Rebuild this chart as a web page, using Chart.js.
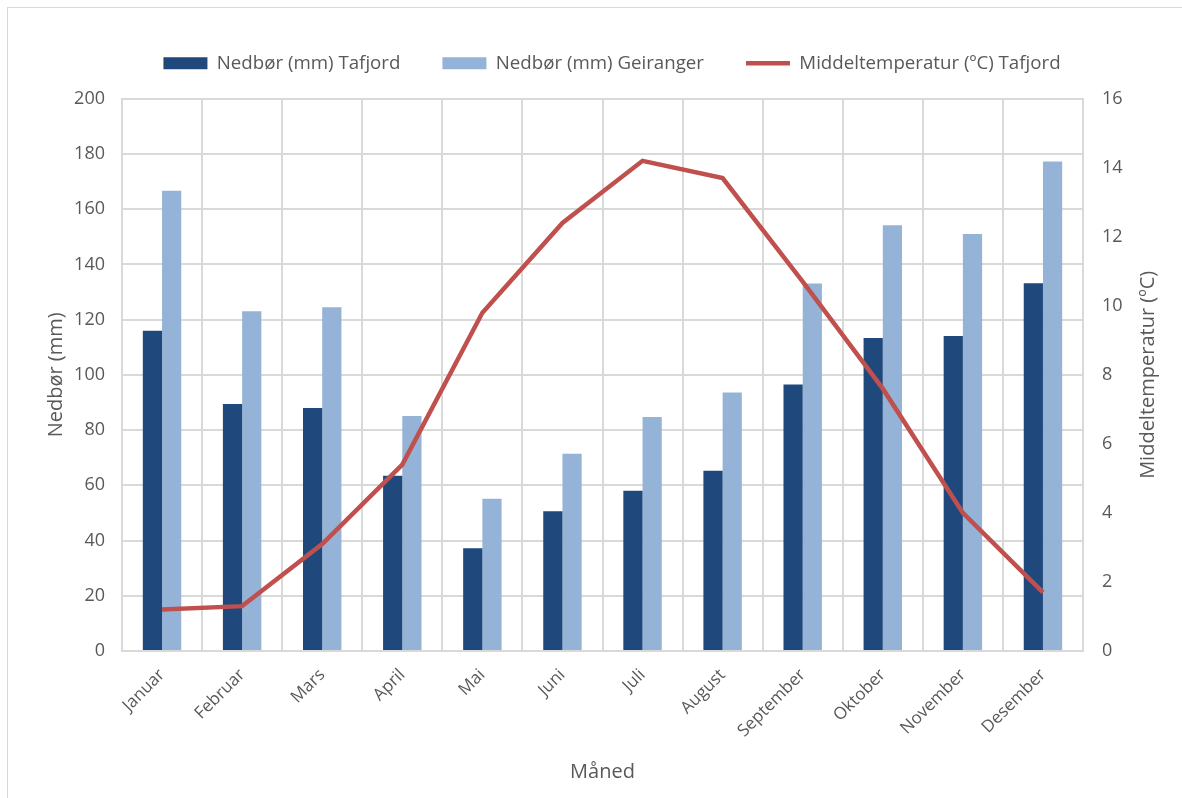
<!DOCTYPE html>
<html>
<head>
<meta charset="utf-8">
<script src="https://cdn.jsdelivr.net/npm/chart.js@4.4.1/dist/chart.umd.min.js"></script>
<style>
  html, body { margin: 0; padding: 0; background: #ffffff; }
  #wrap { width: 1182px; height: 798px; }
</style>
</head>
<body>
<div id="wrap"><canvas id="c" width="1182" height="798"></canvas></div>
<script>
// Monthly climate figures
const months = ['Januar', 'Februar', 'Mars', 'April', 'Mai', 'Juni', 'Juli',
                'August', 'September', 'Oktober', 'November', 'Desember'];
const precipTafjord = [116, 89.4, 88, 63.5, 37.2, 50.6, 58, 65.3, 96.5, 113.3, 114.1, 133.2];
const precipGeiranger = [166.7, 123, 124.5, 85.1, 55.1, 71.4, 84.7, 93.6, 133.1, 154.2, 151, 177.3];
const tempTafjord = [1.2, 1.3, 3.1, 5.4, 9.8, 12.4, 14.2, 13.7, 10.7, 7.6, 4.0, 1.7];

const textColor = '#595959';
const gridColor = '#d9d9d9';
const fontFamily = "'Open Sans', 'Liberation Sans', sans-serif";
const rightTitle = 'Middeltemperatur (ºC)';

// Thin frame, legend placement and the right-hand axis title (reads bottom to top)
const decorPlugin = {
  id: 'decor',
  afterLayout(chart) {
    const lg = chart.legend;
    if (lg) {
      lg.top -= 16;
      lg.bottom -= 16;
      lg.left += 21;
      lg.right += 21;
    }
  },
  beforeDraw(chart) {
    const ctx = chart.ctx;
    ctx.save();
    ctx.fillStyle = '#ffffff';
    ctx.fillRect(0, 0, chart.width, chart.height);
    ctx.strokeStyle = '#d9d9d9';
    ctx.lineWidth = 1;
    ctx.strokeRect(7.5, 7.5, chart.width + 20, chart.height + 20);
    ctx.restore();
  },
  afterDraw(chart) {
    const ctx = chart.ctx;
    const a = chart.chartArea;
    ctx.save();
    ctx.translate(1148, (a.top + a.bottom) / 2);
    ctx.rotate(-Math.PI / 2);
    ctx.fillStyle = textColor;
    ctx.font = '20px ' + fontFamily;
    ctx.textAlign = 'center';
    ctx.textBaseline = 'middle';
    ctx.fillText(rightTitle, 0, 0);
    ctx.restore();
  }
};

new Chart(document.getElementById('c'), {
  type: 'bar',
  data: {
    labels: months,
    datasets: [
      {
        type: 'line',
        label: 'Middeltemperatur (ºC) Tafjord',
        data: tempTafjord,
        yAxisID: 'y1',
        borderColor: '#c0504d',
        backgroundColor: '#c0504d',
        borderWidth: 4.5,
        pointRadius: 0,
        tension: 0,
        order: 0
      },
      {
        label: 'Nedbør (mm) Tafjord',
        data: precipTafjord,
        yAxisID: 'y',
        backgroundColor: '#1f497d',
        categoryPercentage: 0.48,
        barPercentage: 1.0,
        order: 1
      },
      {
        label: 'Nedbør (mm) Geiranger',
        data: precipGeiranger,
        yAxisID: 'y',
        backgroundColor: '#95b3d7',
        categoryPercentage: 0.48,
        barPercentage: 1.0,
        order: 1
      }
    ]
  },
  options: {
    responsive: false,
    animation: false,
    layout: { padding: { left: 0, right: 0, top: 28, bottom: 0 } },
    plugins: {
      tooltip: { enabled: false },
      legend: {
        position: 'top',
        labels: {
          color: textColor,
          font: { family: fontFamily, size: 18.7 },
          usePointStyle: true,
          pointStyleWidth: 44,
          boxHeight: 12,
          padding: 42,
          generateLabels(chart) {
            const order = [1, 2, 0];
            return order.map(i => {
              const ds = chart.data.datasets[i];
              const isLine = ds.type === 'line';
              return {
                text: ds.label,
                datasetIndex: i,
                fillStyle: ds.backgroundColor,
                strokeStyle: isLine ? ds.borderColor : ds.backgroundColor,
                lineWidth: isLine ? 4.5 : 0,
                pointStyle: isLine ? 'line' : 'rect',
                fontColor: textColor,
                hidden: false
              };
            });
          }
        }
      }
    },
    scales: {
      x: {
        afterFit(scale) { scale.height = 147; },
        grid: { color: gridColor, lineWidth: 2, offset: true, drawTicks: false },
        border: { color: gridColor, width: 2 },
        ticks: {
          color: textColor,
          font: { family: fontFamily, size: 17 },
          minRotation: 45,
          maxRotation: 45,
          padding: 14
        },
        title: {
          display: true,
          text: 'Måned',
          color: textColor,
          font: { family: fontFamily, size: 20 },
          padding: { top: 0, bottom: 14 }
        }
      },
      y: {
        position: 'left',
        min: 0,
        max: 200,
        afterFit(scale) { scale.width = 122; },
        grid: { color: gridColor, lineWidth: 2, drawTicks: false },
        border: { color: gridColor, width: 2 },
        ticks: {
          stepSize: 20,
          color: textColor,
          font: { family: fontFamily, size: 18 },
          padding: 17
        },
        title: {
          display: true,
          text: 'Nedbør (mm)',
          color: textColor,
          font: { family: fontFamily, size: 20 },
          padding: { top: 44, bottom: 0 }
        }
      },
      y1: {
        position: 'right',
        min: 0,
        max: 16,
        afterFit(scale) { scale.width = 99; },
        grid: { drawOnChartArea: false, drawTicks: false },
        border: { color: gridColor, width: 2 },
        ticks: {
          stepSize: 2,
          color: textColor,
          font: { family: fontFamily, size: 18 },
          padding: 19
        }
      }
    }
  },
  plugins: [decorPlugin]
});
</script>
</body>
</html>
